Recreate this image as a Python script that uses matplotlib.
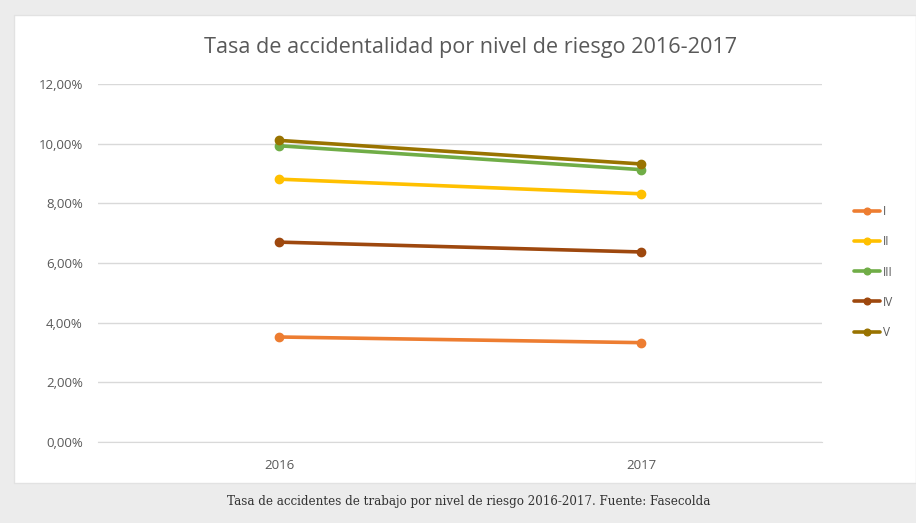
import matplotlib
matplotlib.use("Agg")
import matplotlib.pyplot as plt
from matplotlib.patches import Rectangle
from matplotlib.ticker import FuncFormatter, MultipleLocator

# data
years = ["2016", "2017"]
niveles = ["I", "II", "III", "IV", "V"]
tasa_I = [3.52, 3.33]
tasa_II = [8.81, 8.32]
tasa_III = [9.93, 9.13]
tasa_IV = [6.70, 6.37]
tasa_V = [10.11, 9.32]
series = [tasa_I, tasa_II, tasa_III, tasa_IV, tasa_V]
colores = ["#ED7D31", "#FFC000", "#70AD47", "#9E480E", "#997300"]

W, H = 916, 523
fig = plt.figure(figsize=(W / 100, H / 100), dpi=100)
fig.patch.set_facecolor("#ececec")

# white chart panel
fig.patches.append(Rectangle((14 / W, 1 - 483 / H), (W - 14) / W, (483 - 15) / H,
                             transform=fig.transFigure, facecolor="white",
                             edgecolor="#e2e2e2", lw=1, zorder=-5))

ax = fig.add_axes([98 / W, 1 - 442 / H, (822 - 98) / W, (442 - 84) / H])
ax.set_facecolor("none")
ax.set_zorder(2)

x = list(range(len(years)))
for nivel, vals, c in zip(niveles, series, colores):
    ax.plot(x, vals, color=c, lw=2.6, marker="o", ms=6, label=nivel,
            solid_capstyle="round")

ax.set_xlim(-0.5, 1.5)
ax.set_ylim(0, 12)
ax.yaxis.set_major_locator(MultipleLocator(2))
ax.yaxis.set_major_formatter(FuncFormatter(lambda v, p: ("%.2f" % v).replace(".", ",") + "%"))
ax.set_xticks(x)
ax.set_xticklabels(years)
ax.grid(axis="y", color="#d9d9d9", lw=1)
ax.set_axisbelow(True)
for s in ["top", "right", "left"]:
    ax.spines[s].set_visible(False)
ax.spines["bottom"].set_color("#d9d9d9")
ax.tick_params(axis="both", length=0, labelsize=9.5, labelcolor="#595959")
ax.tick_params(axis="y", pad=11)
ax.tick_params(axis="x", pad=12)
for t in ax.get_xticklabels() + ax.get_yticklabels():
    t.set_fontfamily("Open Sans")

fig.text(471 / W, 1 - 47 / H, "Tasa de accidentalidad por nivel de riesgo 2016-2017",
         ha="center", va="center", fontsize=15.6, color="#595959", family="Open Sans")

leg = fig.legend(loc="center left", bbox_to_anchor=(843 / W, 1 - 272 / H), frameon=False,
                 labelcolor="#595959", handlelength=2.2, handletextpad=0.3,
                 labelspacing=1.45, markerscale=0.8,
                 prop={"family": "Open Sans", "size": 8.5})

fig.text(469 / W, 1 - 501 / H,
         "Tasa de accidentes de trabajo por nivel de riesgo 2016-2017. Fuente: Fasecolda",
         ha="center", va="center", fontsize=8.6, color="#333333", family="DejaVu Serif")

fig.savefig("out.png", dpi=100, facecolor=fig.get_facecolor())
